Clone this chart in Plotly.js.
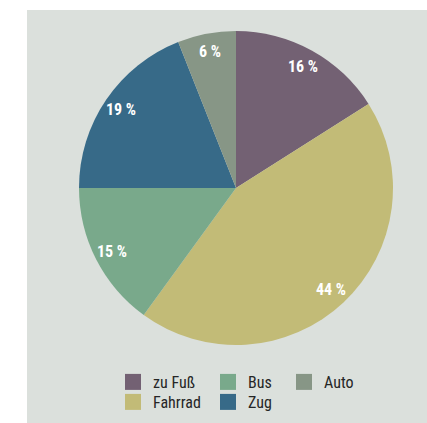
<!DOCTYPE html>
<html><head><meta charset="utf-8">
<script src="https://cdn.plot.ly/plotly-3.0.1.min.js"></script>
<style>
html,body{margin:0;padding:0;background:#ffffff;}
#chart{position:absolute;left:27px;top:10px;width:400px;height:413px;}
</style>
</head><body><div id="chart"></div>
<script>
// data
const categories = ['zu Fuß', 'Fahrrad', 'Bus', 'Zug', 'Auto'];
const shares = [16, 44, 15, 19, 6];
const colors = ['#736173', '#c2bb77', '#79a98b', '#376a88', '#879686'];

const W = 400, H = 413;
const cx = 209, cy = 178, R = 157;
const FONT = '"Roboto Condensed", Roboto, "DejaVu Sans Condensed", sans-serif';

const pie = {
  type: 'pie',
  labels: categories,
  values: shares,
  sort: false,
  direction: 'clockwise',
  rotation: 0,
  textinfo: 'none',
  hoverinfo: 'label+percent',
  marker: {colors: colors, line: {width: 0}},
  domain: {x: [(cx - R) / W, (cx + R) / W], y: [1 - (cy + R) / H, 1 - (cy - R) / H]},
  showlegend: false
};

// legend laid out in columns of two entries (column-major order)
const colX = [86, 181, 257];
const rowY = [372, 392];
const legendTraces = categories.map((c, i) => ({
  type: 'scatter', mode: 'markers', x: [null], y: [null], name: c,
  marker: {symbol: 'square', size: 16, color: colors[i]},
  legend: i === 0 ? 'legend' : 'legend' + (i + 1),
  hoverinfo: 'skip'
}));

const total = shares.reduce((a, b) => a + b, 0);
let cum = 0;
const annotations = shares.map((v) => {
  const mid = (cum + v / 2) / total * 2 * Math.PI;
  cum += v;
  const f = 0.885;
  return {
    xref: 'paper', yref: 'paper',
    x: (cx + f * R * Math.sin(mid)) / W,
    y: 1 - (cy - f * R * Math.cos(mid)) / H,
    text: v + ' %', showarrow: false,
    xanchor: 'center', yanchor: 'middle',
    font: {family: FONT, size: 16, color: '#ffffff', weight: 'bold'}
  };
});

const layout = {
  width: W, height: H,
  margin: {l: 0, r: 0, t: 0, b: 0},
  paper_bgcolor: '#dbe0dc',
  plot_bgcolor: 'rgba(0,0,0,0)',
  xaxis: {visible: false}, yaxis: {visible: false},
  showlegend: true,
  annotations: annotations
};
categories.forEach((c, i) => {
  const key = i === 0 ? 'legend' : 'legend' + (i + 1);
  layout[key] = {
    orientation: 'v', xanchor: 'left', yanchor: 'middle',
    x: colX[Math.floor(i / 2)] / W,
    y: 1 - rowY[i % 2] / H,
    bgcolor: 'rgba(0,0,0,0)', borderwidth: 0,
    font: {family: FONT, size: 16, color: '#262626'}
  };
});

Plotly.newPlot('chart', legendTraces.concat([pie]), layout, {displayModeBar: false, staticPlot: true});
</script>
</body></html>
